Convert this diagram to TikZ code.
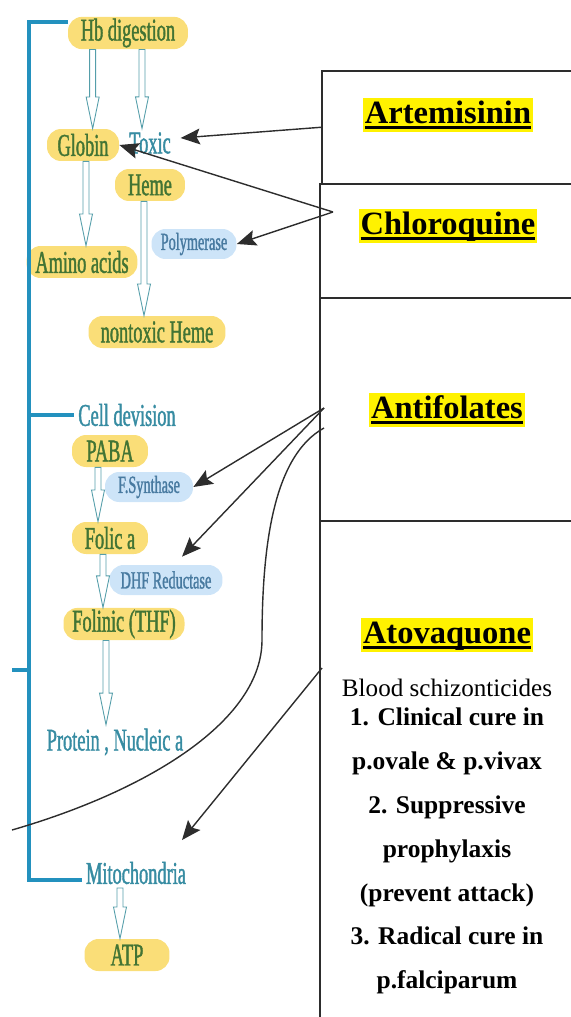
\documentclass[tikz,border=0pt]{standalone}
\usepackage{amsmath}
\usepackage{fontspec}
\setmainfont{Liberation Serif}
\newfontfamily\labelfont[FakeStretch=0.58, FakeBold=1.2]{Liberation Serif}
\usepackage{tikz}
\usetikzlibrary{calc}
\usetikzlibrary{arrows.meta}
\definecolor{leafgreen}{RGB}{66,116,52}
\definecolor{tealtext}{RGB}{55,140,162}
\definecolor{enzymetext}{RGB}{72,122,160}
\definecolor{spineblue}{RGB}{35,145,190}
\definecolor{marker}{RGB}{250,222,120}
\definecolor{skyhl}{RGB}{205,228,248}
\definecolor{hollowline}{RGB}{85,158,170}
\definecolor{boxgray}{RGB}{45,45,45}
\newcommand{\labeltext}{\labelfont\fontsize{18}{20}\selectfont}
\newcommand{\enzymefont}{\labelfont\fontsize{14}{16}\selectfont}
\newcommand{\drugtitle}[1]{\setbox0=\hbox{\bfseries #1}\rlap{\copy0}\rule[-3pt]{\wd0}{1.3pt}}
\tikzset{ yellow_tag/.style = {rectangle, rounded corners=8pt, fill=marker, text=leafgreen, font=\labeltext, minimum height=0.64cm, inner xsep=5pt, inner ysep=1pt} }
\tikzset{ blue_tag/.style = {rectangle, rounded corners=8pt, fill=skyhl, text=enzymetext, font=\enzymefont, minimum height=0.6cm, inner xsep=5pt, inner ysep=1pt} }
\tikzset{ teal_tag/.style = {text=tealtext, font=\labeltext, inner sep=2pt} }
\tikzset{ drug_box/.style = {rectangle, draw=boxgray, line width=0.9pt, anchor=north west, inner sep=0pt, minimum width=5.22cm} }
\tikzset{ drug_name/.style = {fill=yellow, font=\fontsize{18.5}{22}\selectfont, text height=13.5pt, text depth=4pt, inner xsep=1pt, inner ysep=1pt} }
\tikzset{ drug_arrow/.style = {draw=boxgray, line width=0.8pt, -{Stealth[length=11pt, width=9pt, inset=2pt]}} }
\tikzset{ spine/.style = {draw=spineblue, line width=2.4pt} }
\tikzset{ hollow_arrow/.style = {draw=hollowline, fill=white, line width=0.5pt,
    to path={let \p1=(\tikztostart), \p2=(\tikztotarget) in
      (\x1-1.7pt,\y1) -- (\x1-1.7pt,\y2+18pt) -- (\x1-3.7pt,\y2+18pt) -- (\x1,\y2)
      -- (\x1+3.7pt,\y2+18pt) -- (\x1+1.7pt,\y2+18pt) -- (\x1+1.7pt,\y1) -- cycle}} }

\begin{document}
\begin{tikzpicture}[x=0.02cm, y=-0.02cm]
        \useasboundingbox (0,0) rectangle (571,1017);
        % pathway on the left
        \node[yellow_tag, minimum width=2.4cm] (hb) at (128,33) {Hb digestion};
        \node[yellow_tag, minimum width=1.44cm] (globin) at (83,145) {Globin};
        \node[teal_tag] (toxic) at (150,143) {Toxic};
        \node[yellow_tag, minimum width=1.4cm] (heme) at (150,185) {Heme};
        \node[yellow_tag, minimum width=2.2cm] (amino) at (82,262) {Amino acids};
        \node[blue_tag, minimum width=1.7cm] (poly) at (194,244) {Polymerase};
        \node[yellow_tag, minimum width=2.74cm] (nontoxic) at (157,332) {nontoxic Heme};
        \node[teal_tag] (celldiv) at (127,415) {Cell devision};
        \node[yellow_tag, minimum width=1.52cm] (paba) at (110,451) {PABA};
        \node[blue_tag, minimum width=1.76cm] (fsynth) at (149,487) {F.Synthase};
        \node[yellow_tag, minimum width=1.52cm] (folic) at (110,538) {Folic a};
        \node[blue_tag, minimum width=2.26cm] (dhf) at (166,580) {DHF Reductase};
        \node[yellow_tag, minimum width=1.9cm] (folinic) at (124,624) {Folinic (THF)};
        \node[teal_tag] (protein) at (115,742) {Protein , Nucleic a};
        \node[teal_tag] (mito) at (136,873) {Mitochondria};
        \node[yellow_tag, minimum width=1.7cm] (atp) at (127,955) {ATP};

        \draw[hollow_arrow] ($(hb.south west)+(25,0)$) to (globin.north);
        \draw[hollow_arrow] ($(hb.south)+(14,0)$) to (toxic.north);
        \draw[hollow_arrow] ($(globin.south)+(3,0)$) to (amino.north);
        \draw[hollow_arrow] ($(heme.south)+(-6,0)$) to (nontoxic.north);
        \draw[hollow_arrow] ($(paba.south)+(-12,0)$) to (folic.north);
        \draw[hollow_arrow] ($(folic.south)+(-7,0)$) to (folinic.north);
        \draw[hollow_arrow] ($(folinic.south)+(-18,0)$) to (protein.north);
        \draw[hollow_arrow] ($(mito.south)+(-16,0)$) to (atp.north);

        % bracket
        \coordinate (spine_top) at (29,22);
        \coordinate (spine_bot) at (29,880);
        \coordinate (stub) at (12,670);
        \draw[spine] (hb.west |- spine_top) -- (spine_top) -- (spine_bot) -- (mito.west |- spine_bot);
        \draw[spine] (celldiv.west -| spine_top) -- (celldiv.west);
        \draw[spine] (stub) -- (stub -| spine_top);

        % drug boxes
        \node[drug_box, minimum height=2.26cm] (art_box) at (321,70) {};
        \node[drug_box, minimum height=2.28cm] (chl_box) at (319,183) {};
        \node[drug_box, minimum height=4.46cm] (anti_box) at (319,297) {};
        \node[drug_box, minimum height=10.2cm] (ato_box) at (319,520) {};
        \node[drug_name] (art) at (448,115) {\drugtitle{Artemisinin}};
        \node[drug_name] (chl) at (448,226) {\drugtitle{Chloroquine}};
        \node[drug_name] (anti) at (447,410) {\drugtitle{Antifolates}};
        \node[drug_name] (ato) at (447,635) {\drugtitle{Atovaquone}};
        \node[font=\fontsize{14.3}{17}\selectfont] (blood) at (447,688) {Blood schizonticides};
        \node[align=center, font=\bfseries\fontsize{14.5}{25}\selectfont] (uses) at (447,851)
            {1. Clinical cure in\\ p.ovale \& p.vivax\\ 2. Suppressive\\ prophylaxis\\
             (prevent attack)\\ 3. Radical cure in\\ p.falciparum};

        % drug targets
        \coordinate (chl_out) at (333,212);
        \coordinate (anti_out) at (324,408);
        \coordinate (anti_curve) at (324,428);
        \coordinate (curve_end) at (12,830);
        \coordinate (ato_out) at (322,668);
        \draw[drug_arrow] (art_box.west) -- ($(toxic.east)+(6,-5)$);
        \draw[drug_arrow] (chl_out) -- (globin.east);
        \draw[drug_arrow] (chl_out) -- (poly.east);
        \draw[drug_arrow] (anti_out) -- (fsynth.east);
        \draw[drug_arrow] (anti_out) -- ($(dhf.north)+(16,-8)$);
        \draw[boxgray, line width=0.8pt] (anti_curve) .. controls (275,455) and (262,540) .. (262,640)
            .. controls (262,720) and (150,790) .. (curve_end);
        \draw[drug_arrow] (ato_out) -- ($(mito.north)+(46,-18)$);
\end{tikzpicture}
\end{document}
